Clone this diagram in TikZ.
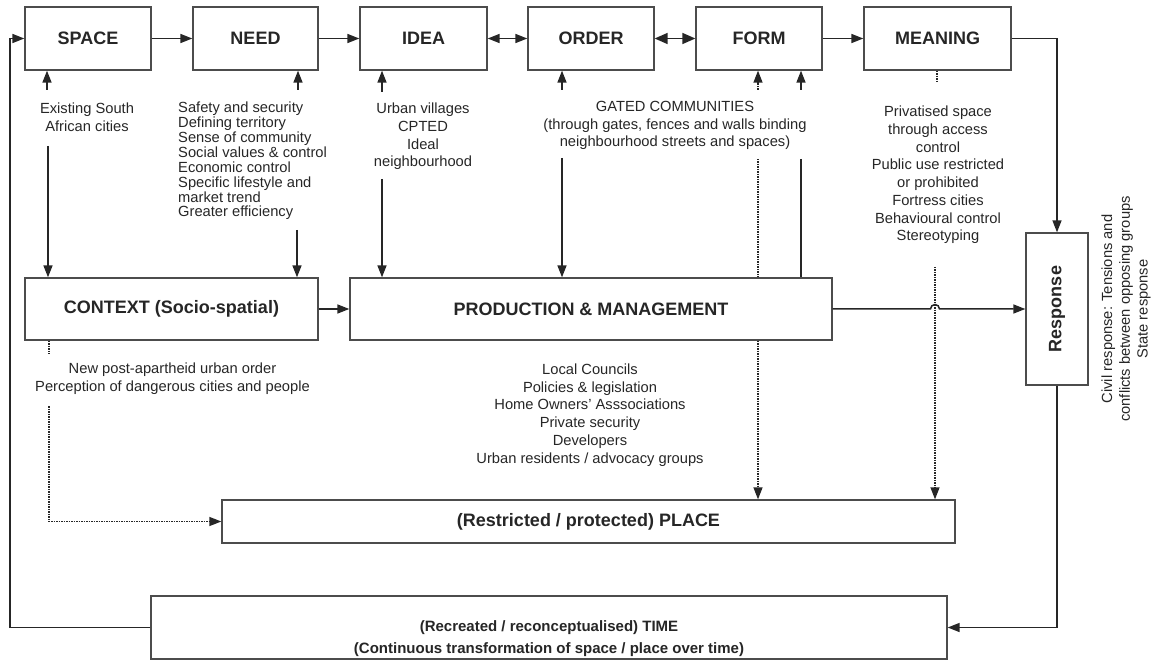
\documentclass[tikz,border=0pt]{standalone}
\usepackage{fontspec}
\setmainfont{Liberation Sans}
\usepackage{graphicx}
\usetikzlibrary{arrows.meta}
\newcommand\boxfont{\fontsize{18}{21}\selectfont\bfseries}
\newcommand\timefont{\fontsize{15}{22}\selectfont\bfseries}
\newcommand\notefont{\fontsize{14.7}{17.7}\selectfont}
\newcommand\listfont{\fontsize{14.7}{14.9}\selectfont}

\begin{document}
\begin{tikzpicture}[
x=1pt,
y=-1pt,
every node/.style={text=black!85},
box/.style={draw=black!70, line width=1.3pt, fill=white, inner sep=0pt, font=\boxfont, align=center},
note/.style={font=\notefont, align=center, inner sep=0pt},
link/.style={line width=1.5pt, draw=black!85},
arr/.style={link, -{Triangle[length=12pt,width=9pt]}},
dbl/.style={link, {Triangle[length=12pt,width=9pt]}-{Triangle[length=12pt,width=9pt]}},
bigdbl/.style={link, {Triangle[length=13pt,width=11pt]}-{Triangle[length=13pt,width=11pt]}},
dots/.style={line width=1.3pt, draw=black!85, dash pattern=on 1.5pt off 1pt}
]
\useasboundingbox (0,0) rectangle (1151,660);

% top row
\node[box, minimum width=126, minimum height=63] (space) at (88,38.5) {SPACE};
\node[box, minimum width=125, minimum height=63] (need) at (255.5,38.5) {NEED};
\node[box, minimum width=127, minimum height=63] (idea) at (423.5,38.5) {IDEA};
\node[box, minimum width=126, minimum height=63] (order) at (591,38.5) {ORDER};
\node[box, minimum width=126, minimum height=63] (form) at (759,38.5) {FORM};
\node[box, minimum width=147, minimum height=63] (meaning) at (937.5,38.5) {MEANING};

% middle and bottom boxes
\node[box, minimum width=293, minimum height=62] (context) at (171.5,309) {CONTEXT (Socio-spatial)};
\node[box, minimum width=482, minimum height=62] (prod) at (591,309) {PRODUCTION \& MANAGEMENT};
\node[box, minimum width=62, minimum height=152] (response) at (1057,309) {\rotatebox{90}{Response}};
\node[box, minimum width=733, minimum height=43] (place) at (588.5,521.5) {(Restricted / protected) PLACE};
\node[box, minimum width=796, minimum height=63] (time) at (549,627.5) {};
\node[note, font=\timefont] (timetext) at ([yshift=-11.5pt]time.center) {(Recreated / reconceptualised) TIME\\(Continuous transformation of space / place over time)};

% notes
\node[note] (existing) at (87,117.5) {Existing South\\African cities};
\node[note, font=\listfont, align=left, anchor=west] (needs) at (178,161) {Safety and security\\Defining territory\\Sense of community\\Social values \& control\\Economic control\\Specific lifestyle and\\market trend\\Greater efficiency};
\node[note] (ideas) at (423,136.5) {Urban villages\\CPTED\\Ideal\\neighbourhood};
\node[note] (gated) at (675,125.5) {GATED COMMUNITIES\\(through gates, fences and walls binding\\neighbourhood streets and spaces)};
\node[note] (effects) at (938,175) {Privatised space\\through access\\control\\Public use restricted\\or prohibited\\Fortress cities\\Behavioural control\\Stereotyping};
\node[note] (postap) at (172.5,379) {New post-apartheid urban order\\Perception of dangerous cities and people};
\node[note] (actors) at (590,415) {Local Councils\\Policies \& legislation\\Home Owners’ Asssociations\\Private security\\Developers\\Urban residents / advocacy groups};
\node[note, rotate=90] (civil) at (1126,309) {Civil response: Tensions and\\conflicts between opposing groups\\State response};

% free ends
\coordinate (back) at (10,0);
\coordinate (upspace) at (47,90);
\coordinate (upneed) at (298,90);
\coordinate (upidea) at (382,92);
\coordinate (uporder) at (562,90);
\coordinate (upform) at (801,90);
\coordinate (upformdot) at (758,90);
\coordinate (dnspace) at (48,146);
\coordinate (dnneed) at (297,230);
\coordinate (dnidea) at (382,179);
\coordinate (dnorder) at (562,158);
\coordinate (dnform) at (801,159);
\coordinate (dnformdot) at (758,159);
\coordinate (mstub) at (937,82);
\coordinate (mdot) at (935,267);
\coordinate (cdot) at (49,406);
\coordinate (hop) at (935,309);

% main cycle
\draw[arr] (space) -- (need);
\draw[arr] (need) -- (idea);
\draw[dbl] (idea) -- (order);
\draw[bigdbl] (order) -- (form);
\draw[arr] (form) -- (meaning);
\draw[arr] (meaning) -| (response);
\draw[arr] (response) |- (time);
\draw[arr] (time.west) -- (time.west -| back) -- (back |- space.west) -- (space.west);
\draw[arr] (context) -- (prod);

% inputs to the top row
\draw[arr] (upspace) -- (upspace |- space.south);
\draw[arr] (upneed) -- (upneed |- need.south);
\draw[arr] (upidea) -- (upidea |- idea.south);
\draw[arr] (uporder) -- (uporder |- order.south);
\draw[arr] (upform) -- (upform |- form.south);
\draw[dots, -{Triangle[length=12pt,width=9pt]}] (upformdot) -- (upformdot |- form.south);
\draw[dots] (mstub |- meaning.south) -- (mstub);

% down to context and production
\draw[arr] (dnspace) -- (dnspace |- context.north);
\draw[arr] (dnneed) -- (dnneed |- context.north);
\draw[arr] (dnidea) -- (dnidea |- prod.north);
\draw[arr] (dnorder) -- (dnorder |- prod.north);
\draw[link] (dnform) -- (dnform |- prod.north);
\draw[dots] (dnformdot) -- (dnformdot |- prod.north);

% down to place
\draw[dots, -{Triangle[length=12pt,width=9pt]}] (dnformdot |- prod.south) -- (dnformdot |- place.north);
\draw[dots, -{Triangle[length=12pt,width=9pt]}] (mdot) -- (mdot |- place.north);
\draw[dots] (context.south -| cdot) -- ++(0,13);
\draw[dots, -{Triangle[length=12pt,width=9pt]}] (cdot) |- (place);

% production to response, hopping the dotted line
\draw[arr] (prod.east) -- ([xshift=-4.5pt]hop) arc[start angle=180, end angle=360, radius=4.5] -- (response.west);
\end{tikzpicture}
\end{document}
